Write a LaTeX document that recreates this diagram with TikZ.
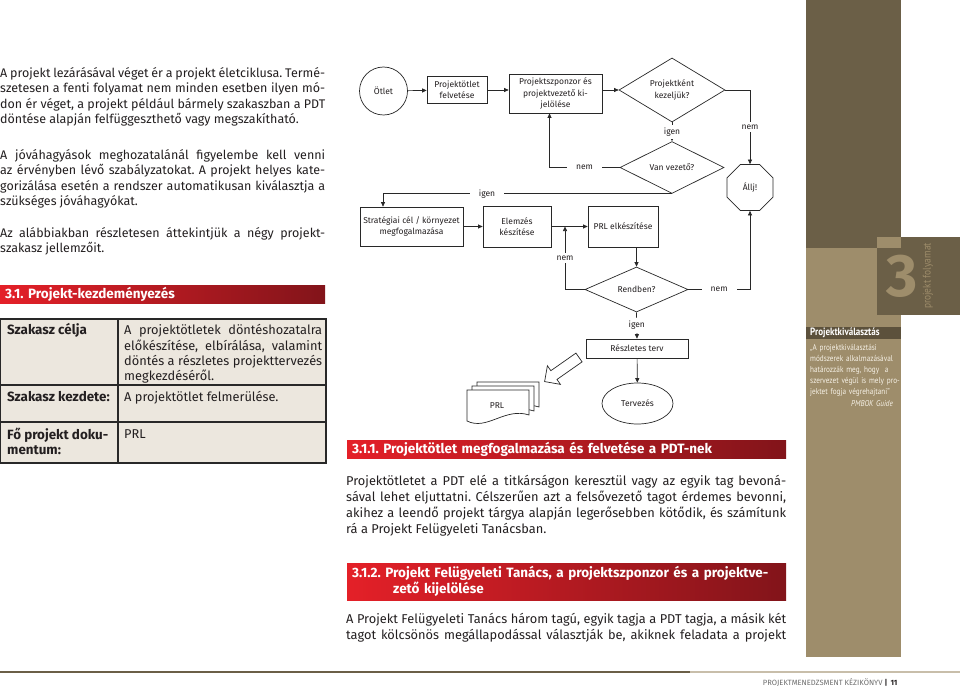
\documentclass[tikz,border=0pt]{standalone}
\usepackage{fontspec}
\setmainfont{Fira Sans}
\newfontfamily\narrowfont{PT Sans}[FakeStretch=0.85]
\usetikzlibrary{
  arrows.meta,
  shapes.geometric,
  shapes.arrows,
  positioning
}
\definecolor{xink}{RGB}{35,31,32}
\definecolor{xline}{RGB}{40,40,40}
\definecolor{xred}{RGB}{228,32,40}
\definecolor{xmaroon}{RGB}{130,20,26}
\definecolor{xbrown}{RGB}{107,95,71}
\definecolor{xbrowndk}{RGB}{92,81,60}
\definecolor{xtan}{RGB}{158,141,107}
\definecolor{xcream}{RGB}{246,241,230}
\definecolor{xtabfill}{RGB}{236,231,222}
\definecolor{xfootlight}{RGB}{200,190,170}
\definecolor{xgreytext}{RGB}{110,110,110}
\hyphenpenalty=10000
\frenchspacing
\newcommand{\bodyfont}{\fontsize{12.5}{15.5}\selectfont}
\newcommand{\rbodyfont}{\fontsize{12.8}{16}\selectfont}
\newcommand{\tabfont}{\fontsize{12.8}{15}\selectfont}
\newcommand{\tabheadfont}{\fontsize{13.4}{15}\selectfont\bfseries}
\newcommand{\fcfont}{\fontsize{8.5}{11.3}\selectfont}
\newcommand{\headfont}{\fontsize{13.5}{16}\selectfont\bfseries}

\begin{document}
\begin{tikzpicture}[x=1pt, y=-1pt,
  body/.style={font=\bodyfont, text=xink, text width=#1, align=justify,
               inner sep=0pt, anchor=north west, execute at begin node=\strut},
  body/.default=325pt,
  rbody/.style={body=440pt, font=\rbodyfont},
  redbar/.style={left color=xred, right color=xmaroon, text=white, font=\headfont,
                 anchor=north west, inner xsep=5pt, inner ysep=0pt, align=left},
  tabtext/.style={font=\tabfont, text=xink, inner sep=0pt, anchor=north west,
                  execute at begin node=\strut},
  box/.style={draw=xline, line width=0.7pt, font=\fcfont, text=xink, align=center, inner sep=1pt},
  dec/.style={box, diamond, inner sep=0pt},
  lbl/.style={fill=white, font=\fcfont, text=xink, inner xsep=9pt, inner ysep=3pt},
  arr/.style={-{Triangle[length=4.5pt,width=4pt]}, line width=0.7pt, draw=xline}
]
  \useasboundingbox (0,0) rectangle (960,687);
  \fill[white] (0,0) rectangle (960,687);

  % sidebar
  \fill[xbrown] (806,0) rectangle (901,248);
  \fill[xtan] (806,248) rectangle (901,657);
  \fill[xbrown] (877,237) rectangle (960,315);
  \fill[xtan] (877,237) rectangle (901,248);
  \node[font=\fontsize{60}{60}\selectfont\bfseries, text=xtan] (chapno) at (902,276) {3};
  \node[rotate=90, font=\narrowfont\fontsize{11}{12}\selectfont, text=xtan] (chapname) at (928,276) {projekt folyamat};
  \node[fill=xbrowndk, text=white, font=\narrowfont\fontsize{10.6}{11}\selectfont\bfseries,
        anchor=north west, text width=87pt, minimum height=12pt, inner xsep=4pt, inner ysep=0pt]
        (kivhead) at (806,327) {Projektkiválasztás};
  \node[anchor=north west, text width=93pt, inner sep=0pt, align=left, text=xcream,
        font=\narrowfont\fontsize{8.5}{11.2}\selectfont, execute at begin node=\strut]
        (kivquote) at (810,342)
        {„A projektkiválasztási\\ módszerek alkalmazásával\\ határozzák meg, hogy~ a\\
         szervezet végül is mely pro-\\ jektet fogja végrehajtani”\\ \hspace*{41pt}\textit{PMBOK Guide}};

  % left column
  \node[body] (lezaras) at (0,66)
    {A projekt lezárásával véget ér a projekt életciklusa. Termé-\linebreak
     szetesen a fenti folyamat nem minden esetben ilyen mó-\linebreak
     don ér véget, a projekt például bármely szakaszban a PDT\linebreak
     döntése alapján felfüggeszthető vagy megszakítható.};
  \node[body] (jovahagy) at (0,148)
    {A jóváhagyások meghozatalánál figyelembe kell venni\linebreak
     az érvényben lévő szabályzatokat. A projekt helyes kate-\linebreak
     gorizálása esetén a rendszer automatikusan kiválasztja a\linebreak
     szükséges jóváhagyókat.};
  \node[body] (attekint) at (0,226)
    {Az alábbiakban részletesen áttekintjük a négy projekt-\linebreak
     szakasz jellemzőit.};
  \node[redbar, text width=315pt, minimum height=18pt] (h31) at (0,285) {3.1. Projekt-kezdeményezés};

  % phase table
  \fill[xtabfill] (0,319) rectangle (326,463);
  \draw[xline, line width=1.4pt] (0,319) rectangle (326,463)
    (118,319) -- (118,463) (0,385) -- (326,385) (0,422) -- (326,422);
  \node[tabtext, font=\tabheadfont] (celja) at (7,323.5) {Szakasz célja};
  \node[tabtext, text width=198pt, align=justify] (celjatxt) at (124,323.5)
    {A projektötletek döntéshozatalra\linebreak előkészítése, elbírálása, valamint\linebreak
     döntés a részletes projekttervezés\linebreak megkezdéséről.};
  \node[tabtext, font=\tabheadfont] (kezdete) at (7,390.5) {Szakasz kezdete:};
  \node[tabtext] (kezdetetxt) at (124,390.5) {A projektötlet felmerülése.};
  \node[tabtext, font=\tabheadfont, align=left] (dokum) at (7,427.5) {Fő projekt doku-\\mentum:};
  \node[tabtext] (dokumtxt) at (124,427.5) {PRL};

  % flowchart
  \node[box, circle, minimum size=48pt, inner sep=0pt] (otlet) at (383.5,91) {Ötlet};
  \node[box, minimum width=60pt, minimum height=27pt] (felv) at (457,90) {Projektötlet\\felvetése};
  \node[box, minimum width=93pt, minimum height=39pt] (szponz) at (555.5,93.5) {Projektszponzor és\\projektvezető ki-\\jelölése};
  \node[dec, minimum width=106pt, minimum height=46pt] (kezel) at (672,90) {Projektként\\kezeljük?};
  \node[dec, minimum width=104pt, minimum height=45pt] (vanvez) at (672,167.5) {Van vezető?};
  \node[box, regular polygon, regular polygon sides=8, minimum size=49.8pt, inner sep=0pt] (allj) at (750,187.5) {Állj!};
  \node[box, minimum width=103pt, minimum height=39pt] (strat) at (411.5,226.5) {Stratégiai cél / környezet\\megfogalmazása};
  \node[box, minimum width=68pt, minimum height=41pt] (elemz) at (517,226.5) {Elemzés\\készítése};
  \node[box, minimum width=70pt, minimum height=41pt] (prl) at (623,226.5) {PRL elkészítése};
  \node[dec, minimum width=103pt, minimum height=45pt] (rend) at (636.5,289.5) {Rendben?};
  \node[box, minimum width=102pt, minimum height=19pt] (reszl) at (637,348.5) {Részletes terv};
  \node[box, ellipse, minimum width=71pt, minimum height=41pt, inner sep=0pt] (terv) at (637.5,403.5) {Tervezés};
  \coordinate (join) at (565,226.5);

  \draw[arr] (otlet) -- (felv);
  \draw[arr] (felv.east) -- (felv.east -| szponz.west);
  \draw[arr] (szponz.east |- kezel) -- (kezel);
  \draw[arr] (kezel.east) -| node[lbl, pos=0.75]{nem} (allj.north);
  \draw[arr] (kezel.south) -- node[lbl]{igen} (vanvez.north);
  \draw[arr] (vanvez.west) -| node[lbl, pos=0.25]{nem} ([xshift=-6pt]szponz.south);
  \draw[arr] (vanvez.south) -| node[lbl, pos=0.32]{igen} ([xshift=-28.5pt]strat.north);
  \draw[arr] (strat) -- (elemz);
  \draw[arr] (elemz) -- (prl);
  \draw[arr] (rend.west) -| node[lbl, pos=0.75]{nem} (join);
  \draw[arr] (rend.east) -| node[lbl, pos=0.25]{nem} (allj.south);
  \draw[arr] (prl.south -| rend.north) -- (rend.north);
  \draw[arr] (rend.south) -- node[lbl]{igen} (reszl.north);
  \draw[arr] (reszl) -- (terv);

  \node[single arrow, draw=xline, line width=0.7pt, fill=white, minimum height=42pt,
        inner sep=5pt, single arrow head extend=6pt, rotate=215] (bigarr) at (564,368) {};
  \foreach \d in {10,5,0}
    \draw[xline, line width=0.7pt, fill=white, shift={(\d,-\d*0.8)}]
      (467,390) -- (529,390) -- (529,415) .. controls (505,407) and (487,431) .. (467,421) -- cycle;
  \node[font=\fcfont, text=xink] (prldoc) at (497,406) {PRL};

  % right column
  \node[redbar, text width=429pt, minimum height=18pt] (h311) at (347,440)
    {3.1.1. Projektötlet megfogalmazása és felvetése a PDT-nek};
  \node[rbody] (otletpar) at (346,474)
    {Projektötletet a PDT elé a titkárságon keresztül vagy az egyik tag bevoná-\linebreak
     sával lehet eljuttatni. Célszerűen azt a felsővezető tagot érdemes bevonni,\linebreak
     akihez a leendő projekt tárgya alapján legerősebben kötődik, és számítunk\linebreak
     rá a Projekt Felügyeleti Tanácsban.};
  \node[redbar, text width=429pt, minimum height=37pt] (h312) at (347,563)
    {\mbox{3.1.2. Projekt Felügyeleti Tanács, a projektszponzor és a projektve-}\\
     \hspace*{41pt}zető kijelölése};
  \node[rbody] (pftpar) at (346,612)
    {A Projekt Felügyeleti Tanács három tagú, egyik tagja a PDT tagja, a másik két\linebreak
     \makebox[440pt][s]{tagot kölcsönös megállapodással választják be, akiknek feladata a projekt}};

  % footer
  \draw[xbrown, line width=2.5pt] (0,672) -- (690,672);
  \draw[xfootlight, line width=2.5pt] (690,672) -- (960,672);
  \node[anchor=east, font=\fontsize{7.6}{9}\selectfont, text=xgreytext] (footer) at (901,683)
    {PROJEKTMENEDZSMENT KÉZIKÖNYV \textcolor{xink}{\textbf{|\, 11}}};
\end{tikzpicture}
\end{document}
